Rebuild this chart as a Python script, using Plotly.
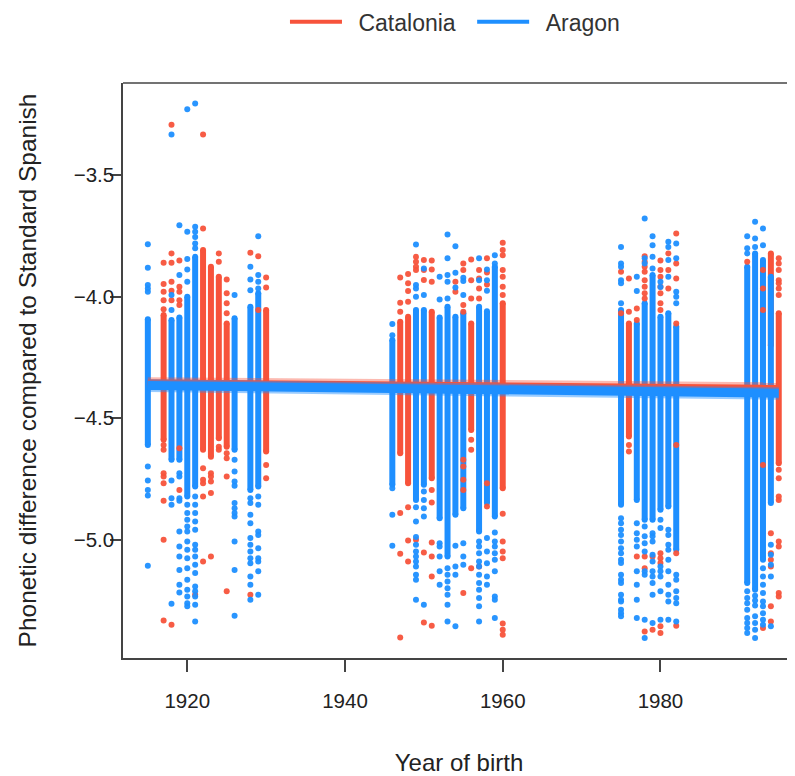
import plotly.graph_objects as go

# ---------------- data ----------------
# Dense part of each column: year, top value, bottom value
CAT_CORE_YEAR = [1917, 1922, 1923, 1924, 1925, 1930, 1947, 1948, 1951, 1956, 1960, 1976, 1994, 1995]
CAT_CORE_TOP = [-4.075, -3.808, -3.877, -3.918, -4.110, -4.055, -4.103, -4.082, -4.062, -4.110, -4.027, -4.110, -3.822, -4.068]
CAT_CORE_BOTTOM = [-4.589, -4.630, -4.658, -4.582, -4.617, -4.637, -4.644, -4.767, -4.747, -4.548, -4.788, -4.575, -4.200, -4.685]

ARA_CORE_YEAR = [1915, 1918, 1919, 1920, 1921, 1926, 1928, 1929, 1946, 1949, 1950, 1952, 1953, 1954, 1955,
                 1957, 1958, 1959, 1975, 1977, 1978, 1979, 1980, 1981, 1982, 1991, 1992, 1993, 1994]
ARA_CORE_TOP = [-4.093, -4.096, -4.085, -4.000, -3.836, -4.089, -4.041, -3.986, -4.178, -4.055, -4.055, -4.085, -4.041, -4.082, -4.068,
                -4.041, -4.060, -3.877, -4.055, -4.110, -4.027, -3.911, -4.082, -4.068, -4.123, -3.877, -3.822, -3.849, -3.918]
ARA_CORE_BOTTOM = [-4.610, -4.671, -4.671, -4.822, -4.781, -4.630, -4.795, -4.781, -4.774, -4.836, -4.774, -4.911, -5.069, -4.897, -4.870,
                   -4.966, -4.849, -4.904, -4.856, -4.836, -4.918, -4.918, -4.877, -4.863, -5.041, -5.178, -5.206, -5.082, -4.849]

# Separate speakers outside the dense part
CAT_POINTS = {
    1917: [-3.860, -3.948, -3.980, -4.014, -4.052, -4.610, -4.630, -4.726, -4.740, -4.767, -4.839, -5.000, -5.332],
    1918: [-3.292, -3.822, -3.860, -3.938, -3.975, -4.014, -5.350],
    1919: [-3.851, -3.959, -3.980, -4.014, -4.034, -4.623, -4.795],
    1921: [-5.226],
    1922: [-3.333, -3.719, -4.706, -4.753, -4.767, -4.822, -5.089],
    1923: [-4.726, -4.740, -4.760, -4.808, -5.069],
    1924: [-3.822, -3.856, -4.617, -4.630],
    1925: [-3.929, -3.986, -4.027, -4.068, -4.644, -4.665, -4.740, -5.212],
    1928: [-3.819, -5.226],
    1929: [-3.833, -4.055],
    1930: [-3.921, -3.962, -4.692, -4.747],
    1947: [-3.921, -4.025, -4.062, -4.890, -5.058, -5.402],
    1948: [-3.907, -3.945, -3.976, -4.021, -4.866, -5.003, -5.089],
    1949: [-3.836, -3.856, -3.877, -3.890, -5.000],
    1950: [-3.849, -3.890, -3.931, -5.052, -5.340],
    1951: [-3.851, -3.888, -3.938, -4.795, -4.847, -5.011, -5.069, -5.151, -5.354],
    1954: [-3.938, -3.980],
    1955: [-3.863, -3.890, -4.034, -4.062, -4.671, -4.699, -4.753, -4.795, -5.219],
    1956: [-3.847, -3.932, -4.007, -4.589, -4.630, -5.117],
    1957: [-3.890, -3.925, -3.966, -4.007, -5.110],
    1958: [-3.842, -3.900, -3.950, -4.767, -4.863],
    1960: [-3.778, -3.808, -3.829, -3.890, -3.918, -3.959, -3.993, -4.893, -5.007, -5.048, -5.076, -5.345, -5.370, -5.391],
    1975: [-3.897, -4.068],
    1976: [-3.925, -4.062, -4.610, -4.637],
    1977: [-4.048, -4.096, -5.069],
    1978: [-3.833, -3.856, -3.877, -3.897, -3.932, -3.959, -3.986, -4.007, -5.069, -5.117, -5.377],
    1979: [-5.069, -5.370],
    1980: [-3.851, -3.890, -3.918, -3.959, -3.986, -4.027, -4.055, -5.055, -5.076, -5.096, -5.356, -5.384],
    1981: [-3.822, -3.890, -3.966],
    1982: [-3.740, -3.863, -3.925, -4.110, -4.610, -5.055, -5.354],
    1991: [-3.856],
    1993: [-3.890, -3.966, -4.055, -4.692, -5.363],
    1994: [-4.973, -5.055, -5.082, -5.110, -5.274, -5.336],
    1995: [-3.842, -3.863, -3.890, -3.932, -3.945, -3.966, -3.993, -4.712, -4.747, -4.822, -4.836, -5.007, -5.028, -5.219, -5.233],
}

ARA_POINTS = {
    1915: [-3.784, -3.881, -3.952, -3.966, -3.980, -4.699, -4.756, -4.795, -4.818, -5.107],
    1918: [-3.333, -3.993, -4.055, -4.756, -4.829, -4.856, -5.263],
    1919: [-3.706, -3.911, -4.726, -4.740, -4.829, -4.839, -4.966, -5.028, -5.069, -5.124, -5.185, -5.217],
    1920: [-3.229, -3.733, -3.845, -3.888, -3.938, -4.856, -4.890, -4.918, -4.945, -4.966, -5.007, -5.041, -5.076,
           -5.117, -5.165, -5.206, -5.233, -5.261, -5.274],
    1921: [-3.205, -3.712, -3.733, -3.754, -3.781, -3.801, -4.822, -4.856, -4.890, -4.925, -4.959, -5.021, -5.041,
           -5.069, -5.103, -5.137, -5.192, -5.212, -5.233, -5.267, -5.336],
    1926: [-3.993, -4.671, -4.719, -4.760, -4.778, -4.849, -4.870, -4.890, -4.904, -5.007, -5.124, -5.313],
    1928: [-3.877, -3.929, -3.973, -4.829, -4.849, -4.897, -4.932, -4.993, -5.021, -5.048, -5.076, -5.097, -5.151, -5.185, -5.247],
    1929: [-3.751, -3.911, -3.938, -3.966, -4.822, -4.856, -4.966, -4.980, -5.035, -5.076, -5.089, -5.130, -5.226],
    1946: [-4.112, -4.158, -4.788, -4.897, -5.025],
    1949: [-3.785, -3.952, -3.966, -4.000, -4.866, -4.925, -4.989, -5.021, -5.048, -5.069, -5.089, -5.110, -5.144, -5.165, -5.247],
    1950: [-3.884, -3.993, -4.801, -4.836, -4.870, -4.904, -5.267],
    1952: [-3.918, -4.011, -5.014, -5.028, -5.069, -5.130, -5.185],
    1953: [-3.744, -3.842, -3.911, -3.938, -4.007, -5.117, -5.144, -5.172, -5.199, -5.226, -5.267, -5.336],
    1954: [-3.792, -3.901, -3.962, -5.025, -5.110, -5.144, -5.356],
    1955: [-3.922, -3.935, -3.993, -5.014, -5.069, -5.103],
    1957: [-3.842, -3.932, -5.007, -5.028, -5.055, -5.089, -5.110, -5.144, -5.178, -5.206, -5.240, -5.274, -5.336],
    1958: [-3.888, -3.932, -3.975, -4.993, -5.048, -5.097, -5.151, -5.185],
    1959: [-3.829, -3.863, -4.970, -5.007, -5.028, -5.055, -5.082, -5.130, -5.233, -5.247, -5.322],
    1975: [-3.795, -3.863, -3.877, -3.932, -3.945, -4.027, -4.911, -4.932, -4.959, -4.980, -5.007, -5.035, -5.055,
           -5.082, -5.096, -5.144, -5.165, -5.178, -5.226, -5.247, -5.254, -5.288, -5.302, -5.315],
    1977: [-3.918, -3.976, -4.932, -4.973, -5.000, -5.028, -5.130, -5.185, -5.247, -5.322],
    1978: [-3.678, -3.842, -3.863, -4.945, -4.986, -5.014, -5.048, -5.130, -5.144, -5.329, -5.404],
    1979: [-3.751, -3.788, -3.836, -3.884, -4.973, -4.986, -5.007, -5.062, -5.089, -5.130, -5.151, -5.178, -5.226, -5.343],
    1980: [-3.938, -3.960, -4.918, -4.952, -5.110, -5.130, -5.151, -5.212, -5.329],
    1981: [-3.774, -3.795, -3.849, -3.918, -4.959, -4.980, -5.021, -5.041, -5.082, -5.130, -5.185, -5.226, -5.254, -5.329],
    1982: [-3.781, -3.842, -3.980, -4.000, -4.027, -5.144, -5.165, -5.212, -5.240, -5.261, -5.336],
    1991: [-3.751, -3.801, -3.822, -5.212, -5.240, -5.261, -5.288, -5.322, -5.343, -5.363, -5.384],
    1992: [-3.692, -3.760, -3.795, -5.230, -5.250, -5.270, -5.315, -5.343, -5.370, -5.404],
    1993: [-3.719, -3.788, -5.117, -5.151, -5.185, -5.219, -5.254, -5.274, -5.302, -5.329, -5.350],
    1994: [-5.021, -5.062, -5.103, -5.151, -5.356],
}

# Fitted trend lines with their bands
FIT_YEAR = [1915, 1995]
CAT_FIT = [-4.352, -4.375]
CAT_FIT_LO = [-4.374, -4.397]
CAT_FIT_HI = [-4.331, -4.352]
ARA_FIT = [-4.365, -4.397]
ARA_FIT_LO = [-4.392, -4.424]
ARA_FIT_HI = [-4.340, -4.372]

X_TICKS = [1920, 1940, 1960, 1980]
Y_TICKS = [-5.0, -4.5, -4.0, -3.5]

RED = "#F7533B"
BLUE = "#1E8FFF"
RED_BAND = "rgba(247,83,59,0.40)"
BLUE_BAND = "rgba(30,143,255,0.45)"

# ---------------- figure ----------------
fig = go.Figure()


def core_trace(years, tops, bottoms, color):
    xs, ys = [], []
    for yr, t, b in zip(years, tops, bottoms):
        xs += [yr, yr, None]
        ys += [t, b, None]
    return go.Scatter(x=xs, y=ys, mode="lines+markers", line=dict(color=color, width=6),
                      marker=dict(size=6, color=color), showlegend=False, hoverinfo="skip")


def point_trace(points, color):
    xs, ys = [], []
    for yr, vals in points.items():
        for v in vals:
            xs.append(yr)
            ys.append(v)
    return go.Scatter(x=xs, y=ys, mode="markers", marker=dict(size=6, color=color, opacity=0.95),
                      showlegend=False, hoverinfo="skip")


fig.add_trace(core_trace(CAT_CORE_YEAR, CAT_CORE_TOP, CAT_CORE_BOTTOM, RED))
fig.add_trace(core_trace(ARA_CORE_YEAR, ARA_CORE_TOP, ARA_CORE_BOTTOM, BLUE))
fig.add_trace(point_trace(CAT_POINTS, RED))
fig.add_trace(point_trace(ARA_POINTS, BLUE))

# trend bands and lines
for lo, hi, band, fit, color, width in [(CAT_FIT_LO, CAT_FIT_HI, RED_BAND, CAT_FIT, RED, 6),
                                        (ARA_FIT_LO, ARA_FIT_HI, BLUE_BAND, ARA_FIT, BLUE, 9)]:
    fig.add_trace(go.Scatter(x=FIT_YEAR, y=lo, mode="lines", line=dict(width=0), showlegend=False, hoverinfo="skip"))
    fig.add_trace(go.Scatter(x=FIT_YEAR, y=hi, mode="lines", line=dict(width=0), fill="tonexty",
                             fillcolor=band, showlegend=False, hoverinfo="skip"))
    fig.add_trace(go.Scatter(x=FIT_YEAR, y=fit, mode="lines", line=dict(color=color, width=width),
                             showlegend=False, hoverinfo="skip"))

# legend entries (thin lines as in the reference legend)
fig.add_trace(go.Scatter(x=[None], y=[None], mode="lines", name="\u2002Catalonia\u2002",
                         line=dict(color=RED, width=4)))
fig.add_trace(go.Scatter(x=[None], y=[None], mode="lines", name="\u2002Aragon",
                         line=dict(color=BLUE, width=4)))

FONT = "Liberation Sans, Arial, Helvetica, sans-serif"
AX = "#444444"

# the page body adds an 8 px offset, so the figure is 8 px smaller than the window
fig.update_layout(
    width=787, height=768,
    margin=dict(l=115, r=0, t=75, b=118, autoexpand=False),
    paper_bgcolor="white", plot_bgcolor="white",
    font=dict(family=FONT, size=20.5, color="#222222"),
    showlegend=True,
    legend=dict(orientation="h", x=0.494, xanchor="center", y=0.982, yanchor="middle",
                yref="container", font=dict(size=23, color="#333333"),
                itemwidth=52, traceorder="normal"),
    xaxis=dict(range=[1911.85, 1997.06], tickmode="array", tickvals=X_TICKS, automargin=False,
               showgrid=False, zeroline=False, showline=True, linecolor=AX, linewidth=1.5,
               ticks="outside", ticklen=12, tickwidth=1.5, tickcolor=AX, ticklabelstandoff=12,
               title=dict(text="Year of birth", font=dict(size=24), standoff=52)),
    yaxis=dict(range=[-5.4865, -3.1206], tickmode="array", tickvals=Y_TICKS, tickformat=".1f", automargin=False,
               showgrid=False, zeroline=False, showline=True, linecolor=AX, linewidth=1.5,
               ticks="outside", ticklen=11, tickwidth=1.5, tickcolor=AX, ticklabelstandoff=-8,
               title=dict(text="Phonetic difference compared to Standard Spanish", font=dict(size=24.5), standoff=30)),
    shapes=[dict(type="line", xref="paper", yref="paper", x0=0, x1=1, y0=1, y1=1,
                 line=dict(color=AX, width=1.5))],
)

fig.write_html("out.html")
